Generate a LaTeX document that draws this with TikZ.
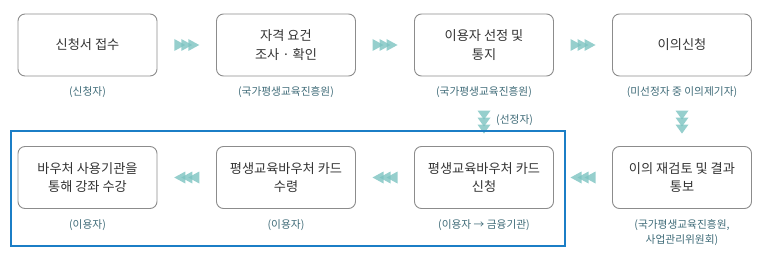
\documentclass[tikz,border=0pt]{standalone}
\usepackage{fontspec}
\setmainfont{Noto Sans CJK KR}
\definecolor{boxline}{HTML}{8C8C8C}
\definecolor{boxtext}{HTML}{333333}
\definecolor{lbltext}{HTML}{3F6B78}
\definecolor{arrowteal}{HTML}{7CC3C1}
\definecolor{frameblue}{HTML}{1B7EC6}
\tikzset{
  stepbox/.style={draw=boxline, line width=0.9pt, rounded corners=7pt,
    minimum width=139pt, minimum height=62pt, align=center,
    text=boxtext, font=\fontsize{13.2}{18.5}\selectfont},
  lbl/.style={text=lbltext, font=\fontsize{10.7}{15}\selectfont, align=center, inner sep=0pt},
  arrowfill/.style={fill=arrowteal, fill opacity=0.8},
  triR/.pic={\foreach \d in {-12.5,-5.5,1.5}{\fill[arrowfill] (\d,-6) -- (\d+11,0) -- (\d,6) -- cycle;}},
  triL/.pic={\foreach \d in {-12.5,-5.5,1.5}{\fill[arrowfill] (-\d,-6) -- (-\d-11,0) -- (-\d,6) -- cycle;}},
  triD/.pic={\foreach \d in {-11.5,-4.5,2.5}{\fill[arrowfill] (-6.5,\d) -- (6.5,\d) -- (0,\d+9) -- cycle;}},
  blueframe/.style={draw=frameblue, line width=2.3pt}
}
\begin{document}
\begin{tikzpicture}[x=1pt,y=-1pt]
\useasboundingbox (0,0) rectangle (772,262);
% top row
\node[stepbox] (b1) at (87.5,45) {신청서 접수};
\node[stepbox] (b2) at (286,45) {자격 요건\\조사 · 확인};
\node[stepbox] (b3) at (484,45) {이용자 선정 및\\통지};
\node[stepbox] (b4) at (682,45) {이의신청};
% bottom row
\node[stepbox] (b5) at (87.5,177.5) {바우처 사용기관을\\통해 강좌 수강};
\node[stepbox] (b6) at (286,177.5) {평생교육바우처 카드\\수령};
\node[stepbox] (b7) at (484,177.5) {평생교육바우처 카드\\신청};
\node[stepbox] (b8) at (682,177.5) {이의 재검토 및 결과\\통보};
% labels
\node[lbl] (l1) at ([yshift=-16pt]b1.south) {(신청자)};
\node[lbl] (l2) at ([yshift=-16pt]b2.south) {(국가평생교육진흥원)};
\node[lbl] (l3) at ([yshift=-16pt]b3.south) {(국가평생교육진흥원)};
\node[lbl] (l4) at ([yshift=-16pt]b4.south) {(미선정자 중 이의제기자)};
\node[lbl] (l5) at ([yshift=-16pt]b5.south) {(이용자)};
\node[lbl] (l6) at ([yshift=-16pt]b6.south) {(이용자)};
\node[lbl] (l7) at ([yshift=-16pt]b7.south) {(이용자 → 금융기관)};
\node[lbl] (l8) at ([yshift=-23.5pt]b8.south) {(국가평생교육진흥원,\\사업관리위원회)};
% arrows
\path (b1) -- (b2) pic[midway]{triR};
\path (b2) -- (b3) pic[midway]{triR};
\path (b3) -- (b4) pic[midway]{triR};
\path (b8) -- (b7) pic[midway]{triL};
\path (b7) -- (b6) pic[midway]{triL};
\path (b6) -- (b5) pic[midway]{triL};
\path (l3.south) -- (b7.north) coordinate[midway] (d1) pic[midway]{triD};
\path (l4.south) -- (b8.north) pic[midway]{triD};
\node[lbl, anchor=west] (sel) at ([xshift=12pt,yshift=2pt]d1) {(선정자)};
% frame
\draw[blueframe] (11,131) rectangle (565,246);
\end{tikzpicture}
\end{document}
